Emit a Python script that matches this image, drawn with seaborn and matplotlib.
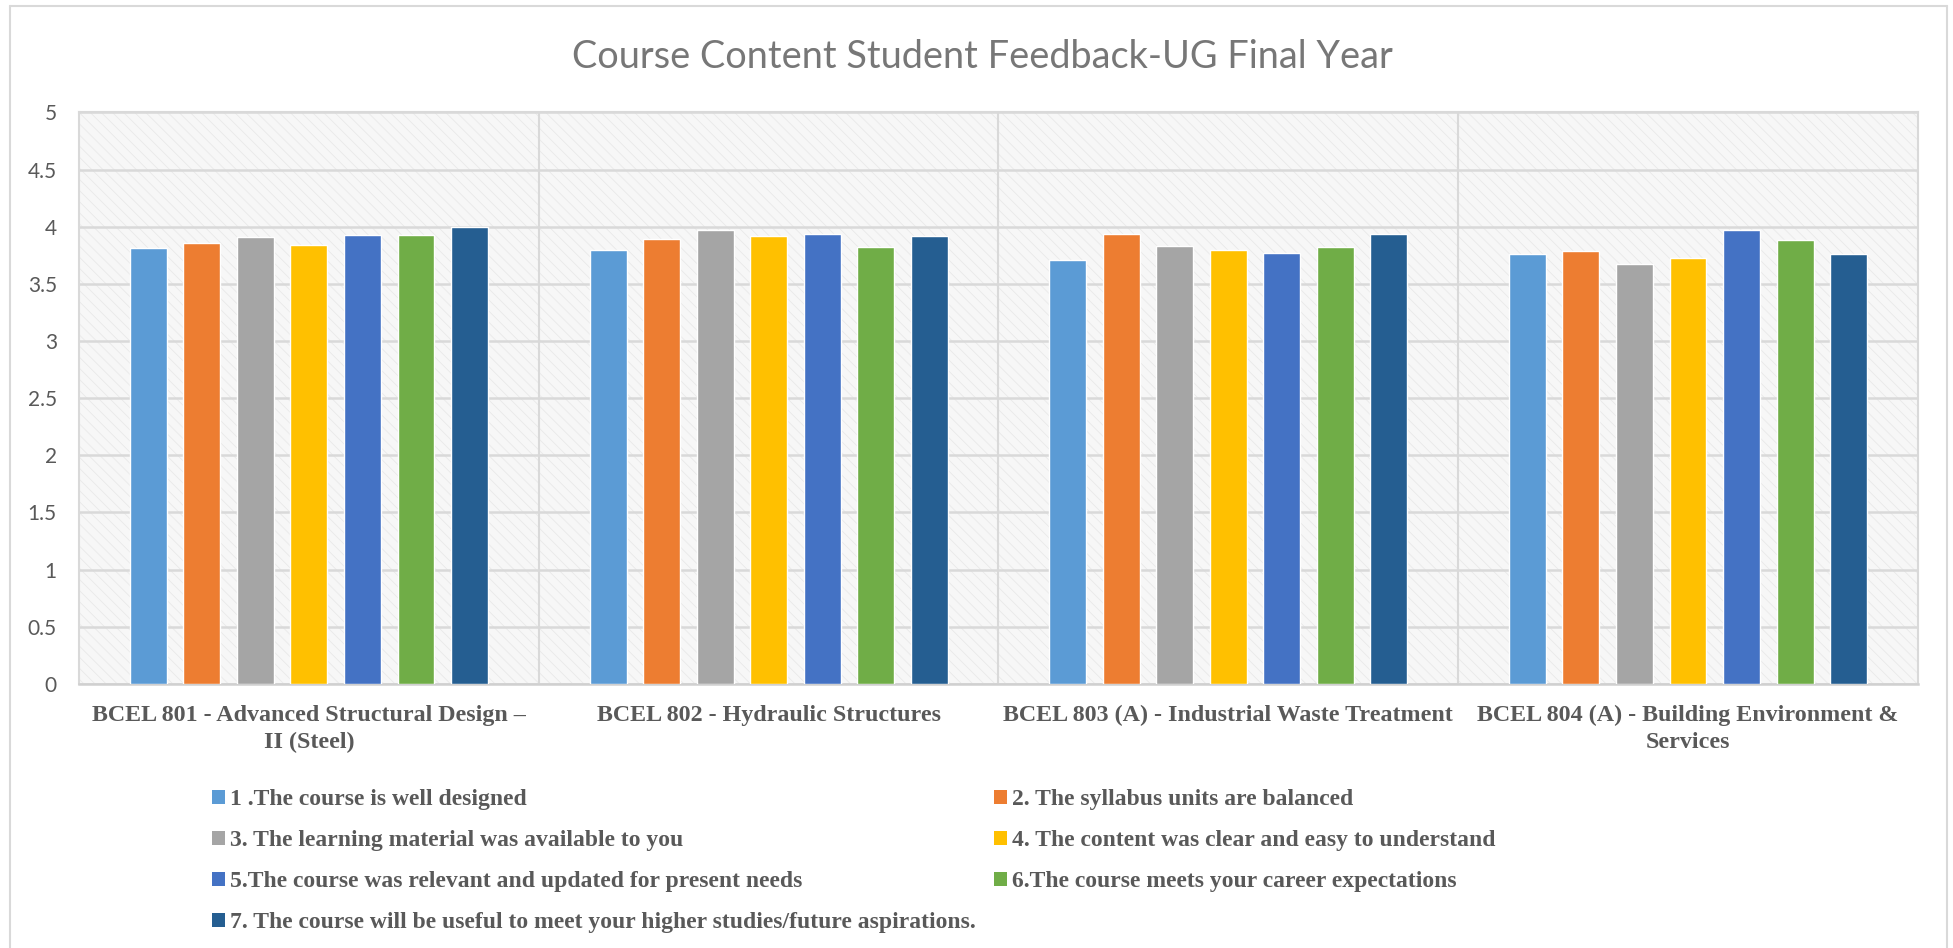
import matplotlib
matplotlib.use('Agg')
import matplotlib.pyplot as plt
import pandas as pd
import seaborn as sns
from matplotlib.patches import Rectangle, Patch
from matplotlib.lines import Line2D

# course names (x categories)
courses = [
    'BCEL 801 - Advanced Structural Design –\nII (Steel)',
    'BCEL 802 - Hydraulic Structures',
    'BCEL 803 (A) - Industrial Waste Treatment',
    'BCEL 804 (A) - Building Environment &\nServices',
]

# feedback questions (series)
questions = [
    '1 .The course is well designed',
    '2. The syllabus units are balanced',
    '3. The learning material was available to you',
    '4. The content was clear and easy to understand',
    '5.The course was relevant and updated for present needs',
    '6.The course meets your career expectations',
    '7. The course will be useful to meet your higher studies/future aspirations.',
]

# mean scores per question, one value per course
q1 = [3.81, 3.80, 3.71, 3.76]
q2 = [3.86, 3.89, 3.94, 3.79]
q3 = [3.91, 3.97, 3.83, 3.67]
q4 = [3.84, 3.92, 3.80, 3.73]
q5 = [3.93, 3.94, 3.77, 3.97]
q6 = [3.93, 3.82, 3.82, 3.88]
q7 = [4.00, 3.92, 3.94, 3.76]

yticks = [0, 0.5, 1, 1.5, 2, 2.5, 3, 3.5, 4, 4.5, 5]
ytick_labels = ['0', '0.5', '1', '1.5', '2', '2.5', '3', '3.5', '4', '4.5', '5']

colors = ['#5B9BD5', '#ED7D31', '#A5A5A5', '#FFC000', '#4472C4', '#70AD47', '#255E91']

# long format for seaborn
rows = []
for q, vals in zip(questions, [q1, q2, q3, q4, q5, q6, q7]):
    for c, v in zip(courses, vals):
        rows.append({'course': c, 'question': q, 'score': v})
df = pd.DataFrame(rows)

sns.set_style('white')
plt.rcParams['font.family'] = ['Liberation Serif', 'DejaVu Sans']
plt.rcParams['hatch.linewidth'] = 0.6
plt.rcParams['hatch.color'] = '#e6e6e6'

fig = plt.figure(figsize=(19.53, 9.48), dpi=100)
ax = fig.add_axes([0.0405, 0.2785, 0.9415, 0.603])

# textured plot-area background
ax.set_facecolor('#f7f7f7')
ax.add_patch(Rectangle((0, 0), 1, 1, transform=ax.transAxes, facecolor='none',
                       edgecolor='#e9e9e9', hatch='\\\\\\', linewidth=0, zorder=0))

sns.barplot(data=df, x='course', y='score', hue='question',
            order=courses, hue_order=questions, palette=colors,
            saturation=1, width=0.815, gap=0.31, legend=False, ax=ax, zorder=3)

ax.set_ylim(0, 5)
ax.set_xlim(-0.5, 3.5)
ax.set_yticks(yticks)
ax.set_yticklabels(ytick_labels, family='Lato', fontsize=15, color='#595959')
ax.tick_params(axis='y', length=0, pad=16)
ax.tick_params(axis='x', length=0, pad=15)
for lbl in ax.get_xticklabels():
    lbl.set_fontsize(17.3)
    lbl.set_fontweight('bold')
    lbl.set_color('#595959')
    lbl.set_multialignment('center')
    lbl.set_linespacing(1.35)
ax.set_xlabel('')
ax.set_ylabel('')

# gridlines
ax.set_axisbelow(True)
ax.yaxis.grid(True, color='#d9d9d9', linewidth=1.8)
for xb in [0.5, 1.5, 2.5]:
    ax.axvline(xb, color='#d9d9d9', linewidth=1.5, zorder=1)
for side in ['left', 'right', 'top']:
    ax.spines[side].set_color('#d9d9d9')
    ax.spines[side].set_linewidth(1.5)
ax.spines['bottom'].set_color('#d0d0d0')
ax.spines['bottom'].set_linewidth(1.8)

fig.suptitle('Course Content Student Feedback-UG Final Year', family='Lato',
             fontsize=27.3, color='#777777', y=0.94, va='center', x=0.503)

# legend in two columns (row-major order like the original)
handles = [Patch(facecolor=c, edgecolor='none') for c in colors]
leg_kw = dict(frameon=False, borderpad=0, handlelength=0.55, handleheight=0.55,
              handletextpad=0.2, labelspacing=0.85, loc='upper left',
              prop={'family': 'Liberation Serif', 'weight': 'bold', 'size': 17},
              labelcolor='#595959')
fig.legend([handles[i] for i in [0, 2, 4, 6]], [questions[i] for i in [0, 2, 4, 6]],
           bbox_to_anchor=(0.1025, 0.18), **leg_kw)
fig.legend([handles[i] for i in [1, 3, 5]], [questions[i] for i in [1, 3, 5]],
           bbox_to_anchor=(0.503, 0.18), **leg_kw)

# chart border
for xs, ys in [([0.005, 0.005], [0, 0.994]), ([0.005, 0.997], [0.994, 0.994]),
               ([0.997, 0.997], [0, 0.994])]:
    fig.add_artist(Line2D(xs, ys, transform=fig.transFigure, color='#d9d9d9', linewidth=1.5))

fig.savefig('out.png', dpi=100)
